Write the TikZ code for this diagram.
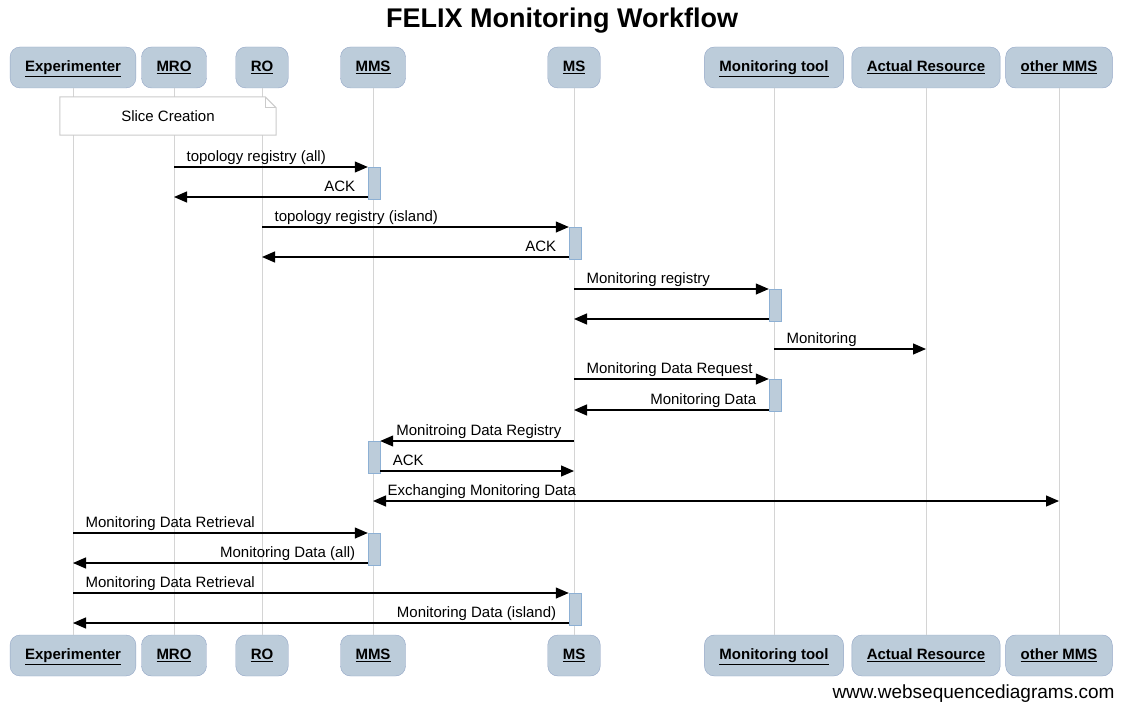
\documentclass[tikz,border=0pt]{standalone}
\usepackage{fontspec}
\setmainfont{Liberation Sans}
\usepackage{tikz}
\usetikzlibrary{arrows.meta}
\definecolor{boxfill}{HTML}{BCCCDA}
\definecolor{boxline}{HTML}{93A6C6}
\definecolor{actline}{HTML}{8DB0D4}
\definecolor{lifegray}{HTML}{D4D4D4}
\definecolor{notegray}{HTML}{CBCBCB}

\begin{document}
\begin{tikzpicture}[x=1pt,y=-1pt,
	actor/.style={draw=boxline, fill=boxfill, rounded corners=10pt, minimum height=41pt, inner xsep=15pt, text height=11pt, text depth=3pt, font=\fontsize{15}{18}\selectfont\bfseries},
	act/.style={draw=actline, fill=boxfill, minimum width=12pt, minimum height=32pt, inner sep=0pt, anchor=north},
	life/.style={draw=lifegray, line width=1pt},
	msg/.style={-{Triangle[length=13pt,width=11pt]}, line width=1.2pt},
	twoway/.style={{Triangle[length=13pt,width=11pt]}-{Triangle[length=13pt,width=11pt]}, line width=1.2pt},
	rlbl/.style={pos=0, anchor=base west, xshift=12pt, yshift=6pt, inner sep=0pt, font=\fontsize{15}{18}\selectfont},
	llbl/.style={pos=0, anchor=base east, xshift=-12pt, yshift=6pt, inner sep=0pt, font=\fontsize{15}{18}\selectfont}]
	
	\useasboundingbox (0,0) rectangle (1130,706);
	
	% title and footer
	\node[font=\fontsize{27}{32}\selectfont\bfseries] (title) at (562,21) {FELIX Monitoring Workflow};
	\node[anchor=east, font=\fontsize{19}{22}\selectfont] (wsd) at (1118,694) {www.websequencediagrams.com};
	
	% participants, top and bottom
	\foreach \n/\x/\t in {exp/73/Experimenter, mro/174/MRO, ro/262/RO, mms/373/MMS, ms/574/MS, tool/774/Monitoring tool, res/926/Actual Resource, oth/1059/other MMS}
	{
		\node[actor] (top-\n) at (\x,67.5) {\underline{\t}};
		\node[actor] (bot-\n) at (\x,655.5) {\underline{\t}};
	}
	
	% draw life lines
	\foreach \n in {exp,mro,ro,mms,ms,tool,res,oth}
	\draw[life] (top-\n.south) -- (bot-\n.north);
	
	% note over experimenter .. RO
	\node[fill=white, minimum width=216pt, minimum height=38pt, inner sep=0pt, font=\fontsize{15}{18}\selectfont] (slice) at (168,116) {Slice Creation};
	\draw[notegray, line width=1pt] (slice.north west) -- ([xshift=-11pt]slice.north east) -- ([yshift=-11pt]slice.north east) -- (slice.south east) -- (slice.south west) -- cycle;
	\draw[notegray, line width=1pt] ([xshift=-11pt]slice.north east) -- ([xshift=-11pt,yshift=-11pt]slice.north east) -- ([yshift=-11pt]slice.north east);
	
	% activation bars
	\node[act] (a1) at (374,167) {};
	\node[act] (a2) at (575,227) {};
	\node[act] (a3) at (775,289) {};
	\node[act] (a4) at (775,379) {};
	\node[act] (a5) at (374,441) {};
	\node[act] (a6) at (374,533) {};
	\node[act] (a7) at (575,593) {};
	
	% messages
	\draw[msg] (top-mro |- 0,167) -- (a1.west |- 0,167) node[rlbl] {topology registry (all)};
	\draw[msg] (a1.west |- 0,197) -- (top-mro |- 0,197) node[llbl] {ACK};
	\draw[msg] (top-ro |- 0,227) -- (a2.west |- 0,227) node[rlbl] {topology registry (island)};
	\draw[msg] (a2.west |- 0,257) -- (top-ro |- 0,257) node[llbl] {ACK};
	\draw[msg] (top-ms |- 0,289) -- (a3.west |- 0,289) node[rlbl] {Monitoring registry};
	\draw[msg] (a3.west |- 0,319) -- (top-ms |- 0,319);
	\draw[msg] (top-tool |- 0,349) -- (top-res |- 0,349) node[rlbl] {Monitoring};
	\draw[msg] (top-ms |- 0,379) -- (a4.west |- 0,379) node[rlbl] {Monitoring Data Request};
	\draw[msg] (a4.west |- 0,410) -- (top-ms |- 0,410) node[llbl] {Monitoring Data};
	\draw[msg] (top-ms |- 0,441) -- (a5.east |- 0,441) node[llbl] {Monitroing Data Registry};
	\draw[msg] (a5.east |- 0,471) -- (top-ms |- 0,471) node[rlbl] {ACK};
	\draw[twoway] (top-mms |- 0,501) -- (top-oth |- 0,501) node[rlbl, xshift=2pt] {Exchanging Monitoring Data};
	\draw[msg] (top-exp |- 0,533) -- (a6.west |- 0,533) node[rlbl] {Monitoring Data Retrieval};
	\draw[msg] (a6.west |- 0,563) -- (top-exp |- 0,563) node[llbl] {Monitoring Data (all)};
	\draw[msg] (top-exp |- 0,593) -- (a7.west |- 0,593) node[rlbl] {Monitoring Data Retrieval};
	\draw[msg] (a7.west |- 0,623) -- (top-exp |- 0,623) node[llbl] {Monitoring Data (island)};
	
\end{tikzpicture}
\end{document}
